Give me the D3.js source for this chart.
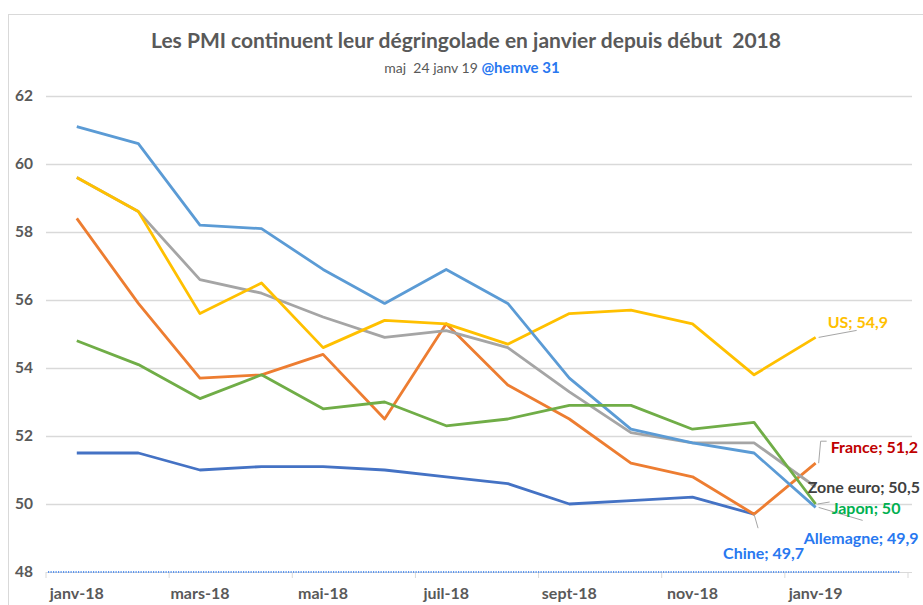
<!DOCTYPE html>
<html lang="fr">
  <head>
    <meta charset="UTF-8">
    <title>PMI janvier 2019</title>
    <script src="https://cdn.jsdelivr.net/npm/d3@7"></script>
    <style>
      body { margin: 0; background: #fff; }
      text { font-family: Lato, "Open Sans", sans-serif; white-space: pre; }
    </style>
  </head>
  <body>
    <svg id="chart" width="923" height="605"></svg>
    <script>
        // mois (févr-19 reste vide comme dans le graphique d'origine)
        var months = ["janv-18", "févr-18", "mars-18", "avr-18", "mai-18", "juin-18", "juil-18",
                      "août-18", "sept-18", "oct-18", "nov-18", "déc-18", "janv-19", "févr-19"];
        var yTicks = [48, 50, 52, 54, 56, 58, 60, 62];

        var chine     = [51.5, 51.5, 51.0, 51.1, 51.1, 51.0, 50.8, 50.6, 50.0, 50.1, 50.2, 49.7, null, null];
        var france    = [58.4, 55.9, 53.7, 53.8, 54.4, 52.5, 55.3, 53.5, 52.5, 51.2, 50.8, 49.7, 51.2, null];
        var zoneEuro  = [59.6, 58.6, 56.6, 56.2, 55.5, 54.9, 55.1, 54.6, 53.3, 52.1, 51.8, 51.8, 50.5, null];
        var us        = [59.6, 58.6, 55.6, 56.5, 54.6, 55.4, 55.3, 54.7, 55.6, 55.7, 55.3, 53.8, 54.9, null];
        var allemagne = [61.1, 60.6, 58.2, 58.1, 56.9, 55.9, 56.9, 55.9, 53.7, 52.2, 51.8, 51.5, 49.9, null];
        var japon     = [54.8, 54.1, 53.1, 53.8, 52.8, 53.0, 52.3, 52.5, 52.9, 52.9, 52.2, 52.4, 50.0, null];

        var seriesNames = ["Chine", "France", "Zone euro", "US", "Allemagne", "Japon"];
        var seriesData = [chine, france, zoneEuro, us, allemagne, japon];
        var lineColors = ["#4472C4", "#ED7D31", "#A5A5A5", "#FFC000", "#5B9BD5", "#70AD47"];
        var labelColors = ["#2878F0", "#C00000", "#404040", "#FFC000", "#2878F0", "#00B050"];

        // placement des étiquettes par rapport au dernier point (dx, dy du texte, ligne de rappel)
        var labelPos = {
            "Chine":     { dx: -31, dy: 39, lead: [[0, 0], [4, 14]] },
            "France":    { dx: 15, dy: -16, lead: [[3, 0], [5, -22], [11, -22]] },
            "Zone euro": { dx: -8, dy: 0, lead: null },
            "US":        { dx: 12, dy: -15, lead: [[3, 0], [41, -7]] },
            "Allemagne": { dx: -12, dy: 31, lead: [[3, 0], [47, 13]] },
            "Japon":     { dx: 16, dy: 4, lead: [[2, 0], [14, -2]] }
        };

        var svg = d3.select("#chart");
        var plotLeft = 46, plotRight = 908, plotTop = 96, plotBottom = 572;

        var x = d3.scaleBand().domain(months).range([plotLeft, plotRight]);
        var y = d3.scaleLinear().domain([48, 62]).range([plotBottom, plotTop]);

        function cx(m) { return x(m) + x.bandwidth() / 2; }

        // cadre du graphique
        svg.append("rect").attr("x", 8.5).attr("y", 14.5).attr("width", 1000).attr("height", 1000)
            .attr("fill", "none").attr("stroke", "#D9D9D9");

        // titre
        svg.append("text").attr("x", 466).attr("y", 48).attr("text-anchor", "middle")
            .attr("font-size", 21).attr("font-weight", "bold").attr("fill", "#595959")
            .text("Les PMI continuent leur dégringolade en janvier depuis début  2018");
        var sub = svg.append("text").attr("x", 472).attr("y", 73).attr("text-anchor", "middle");
        sub.append("tspan").attr("font-size", 14).attr("fill", "#595959")
            .text("maj  24 janv 19 ");
        sub.append("tspan").attr("font-size", 15).attr("font-weight", "bold").attr("fill", "#2878F0")
            .text("@hemve 31");

        // axe Y + grille
        var yAxis = svg.append("g").attr("transform", "translate(" + plotLeft + ",0)")
            .call(d3.axisLeft(y).tickValues(yTicks).tickSize(-(912 - plotLeft)).tickPadding(13));
        yAxis.select(".domain").remove();
        yAxis.selectAll(".tick line").attr("stroke", "#D9D9D9").attr("stroke-width", 1.3)
            .filter(function (d) { return d === 48; }).remove();
        yAxis.selectAll(".tick text").attr("font-size", 15.5).attr("font-weight", "bold")
            .attr("fill", "#595959").attr("font-family", "Lato, sans-serif");

        // axe X
        var xAxis = svg.append("g").attr("transform", "translate(0," + plotBottom + ")")
            .call(d3.axisBottom(x).tickSize(0).tickPadding(16)
                .tickValues(months.filter(function (d, i) { return i % 2 === 0; })));
        xAxis.select(".domain").attr("stroke", "#D9D9D9").attr("d", "M" + plotLeft + ",0.5H912");
        xAxis.selectAll(".tick text").attr("font-size", 16).attr("font-weight", "bold")
            .attr("fill", "#595959").attr("font-family", "Lato, sans-serif");
        // graduations entre les mois, tous les deux mois
        var bounds = months.filter(function (d, i) { return i % 2 === 0; }).concat(["end"]);
        xAxis.selectAll("line.bound").data(bounds).enter().append("line").attr("class", "bound")
            .attr("x1", function (d) { return d === "end" ? plotRight : x(d); })
            .attr("x2", function (d) { return d === "end" ? plotRight : x(d); })
            .attr("y1", 0).attr("y2", 6).attr("stroke", "#D9D9D9");
        // ligne pointillée bleue sur l'axe
        svg.append("line").attr("x1", x(months[0]) + 2).attr("x2", plotRight - 8)
            .attr("y1", y(48)).attr("y2", y(48))
            .attr("stroke", "#5B95EE").attr("stroke-width", 2).attr("stroke-dasharray", "1.2,1.3");

        // courbes
        var line = d3.line()
            .defined(function (d) { return d.v !== null; })
            .x(function (d) { return cx(d.m); })
            .y(function (d) { return y(d.v); });

        for (var i = 0; i < seriesData.length; i++) {
            var pts = months.map(function (m, j) { return { m: m, v: seriesData[i][j] }; });
            svg.append("path").datum(pts).attr("d", line)
                .attr("fill", "none").attr("stroke", lineColors[i]).attr("stroke-width", 2.8)
                .attr("stroke-linejoin", "round");
        }

        // étiquettes de la dernière valeur
        for (var k = 0; k < seriesData.length; k++) {
            var name = seriesNames[k];
            var vals = seriesData[k];
            var last = 0;
            for (var j = 0; j < vals.length; j++) { if (vals[j] !== null) { last = j; } }
            var px = cx(months[last]), py = y(vals[last]);
            var p = labelPos[name];
            if (p.lead) {
                svg.append("path")
                    .attr("d", "M" + p.lead.map(function (q) { return (px + q[0]) + "," + (py + q[1]); }).join("L"))
                    .attr("fill", "none").attr("stroke", "#A6A6A6").attr("stroke-width", 1);
            }
            svg.append("text").attr("x", px + p.dx).attr("y", py + p.dy).attr("dy", "0.35em")
                .attr("font-size", 16).attr("font-weight", "bold").attr("fill", labelColors[k])
                .text(name + "; " + String(vals[last]).replace(".", ","));
        }
    </script>
  </body>
</html>
